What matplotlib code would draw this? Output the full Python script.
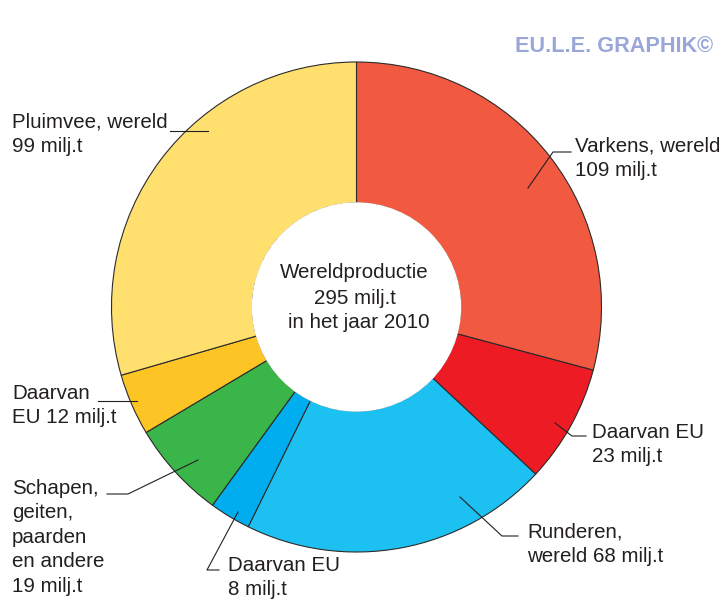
import matplotlib.pyplot as plt

# dati (milioni di tonnellate, 2010)
segmenti = ["Varkens rest", "Varkens EU", "Runderen rest", "Runderen EU",
            "Schapen", "Pluimvee EU", "Pluimvee rest"]
valori = [86, 23, 60, 8, 19, 12, 87]
colori = ["#F15A40", "#ED1C24", "#1DC1F1", "#00AEEF",
          "#3AB54A", "#FDC425", "#FFE06F"]

totaal = sum(valori)
varkens = valori[0] + valori[1]
runderen = valori[2] + valori[3]
pluimvee = valori[5] + valori[6]

W, H = 728, 599


def Y(y):
    # coordinate immagine (dall'alto) -> coordinate asse
    return H - y


fig = plt.figure(figsize=(W / 100, H / 100), dpi=100)
ax = fig.add_axes([0, 0, 1, 1])

plt.rcParams["font.family"] = ["Liberation Sans", "DejaVu Sans"]

R = 245
cx, cy = 356.5, Y(307)
ax.pie(valori, colors=colori, startangle=90, counterclock=False,
       center=(cx, cy), radius=R, frame=True,
       wedgeprops=dict(width=R - 104, edgecolor="#2b2b2b", linewidth=0.8))
ax.add_patch(plt.Circle((cx, cy), 104, color="white", zorder=5))
ax.set_xlim(0, W)
ax.set_ylim(0, H)
ax.set_aspect("equal")
ax.axis("off")

tc = "#231F20"
fs = 14.8

# testo centrale
ax.text(cx - 2, Y(273), "Wereldproductie", ha="center", va="center",
        fontsize=fs, color=tc, zorder=6)
ax.text(cx - 2, Y(299), f"{totaal} milj.t", ha="center", va="center",
        fontsize=fs, color=tc, zorder=6)
ax.text(cx + 2, Y(323), "in het jaar 2010", ha="center", va="center",
        fontsize=fs, color=tc, zorder=6)


def etichetta(x, y, testo):
    ax.text(x, Y(y), testo, ha="left", va="top", fontsize=fs, color=tc,
            linespacing=1.36, zorder=6)


def linea(punti):
    xs = [p[0] for p in punti]
    ys = [Y(p[1]) for p in punti]
    ax.plot(xs, ys, color=tc, lw=0.8, zorder=6)


etichetta(575, 137, f"Varkens, wereld\n{varkens} milj.t")
linea([(528, 188), (553, 152), (571, 152)])

etichetta(592, 423, f"Daarvan EU\n{valori[1]} milj.t")
linea([(555, 423), (572, 436), (586, 436)])

etichetta(527, 523, f"Runderen,\nwereld {runderen} milj.t")
linea([(460, 497), (502, 536), (518, 536)])

etichetta(228, 556, f"Daarvan EU\n{valori[3]} milj.t")
linea([(238, 512), (207, 570), (219, 570)])

etichetta(12, 479, f"Schapen,\ngeiten,\npaarden\nen andere\n{valori[4]} milj.t")
linea([(198, 460), (128, 494), (107, 494)])

etichetta(12, 384, f"Daarvan\nEU {valori[5]} milj.t")
linea([(98, 401), (137, 401)])

etichetta(12, 113, f"Pluimvee, wereld\n{pluimvee} milj.t")
linea([(170, 131), (208, 131)])

# marchio
ax.text(713, Y(47), "EU.L.E. GRAPHIK\u00a9", ha="right", va="center",
        fontsize=15.6, fontweight="bold", color="#9AA6D8")

fig.savefig("out.png", dpi=100)
